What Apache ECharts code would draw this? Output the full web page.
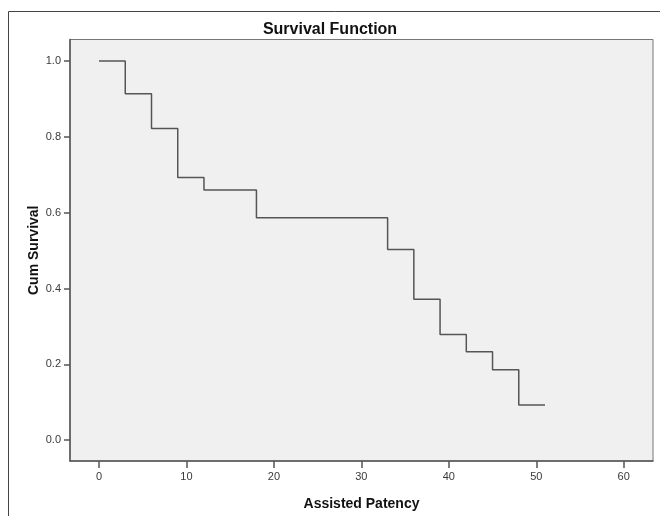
<!DOCTYPE html>
<html>
<head>
<meta charset="utf-8">
<script src="https://cdn.jsdelivr.net/npm/echarts@6/dist/echarts.min.js"></script>
<style>html,body{margin:0;padding:0;background:#fff}#c{width:660px;height:516px}</style>
</head>
<body>
<div id="c"></div>
<script>
var times = [0, 3, 6, 9, 12, 18, 33, 36, 39, 42, 45, 48, 51];
var survival = [1.0, 0.914, 0.822, 0.693, 0.660, 0.587, 0.503, 0.372, 0.279, 0.233, 0.186, 0.093, 0.093];
var xTicks = [0, 10, 20, 30, 40, 50, 60];
var yTicks = [0.0, 0.2, 0.4, 0.6, 0.8, 1.0];
var titleText = 'Survival Function';
var xName = 'Assisted Patency';
var yName = 'Cum Survival';

var points = times.map(function (t, i) { return [t, survival[i]]; });
var font = '"Liberation Sans", Arial, sans-serif';
var chart = echarts.init(document.getElementById('c'), null, { renderer: 'canvas' });
chart.setOption({
  animation: false,
  backgroundColor: '#ffffff',
  title: {
    text: titleText, left: 'center', top: 17,
    textStyle: { fontFamily: font, fontSize: 16, fontWeight: 'bold', color: '#111' }
  },
  graphic: [{
    type: 'rect', shape: { x: 8.5, y: 11.5, width: 800, height: 700 },
    style: { fill: 'none', stroke: '#444', lineWidth: 1 }, z: -10, silent: true
  }],
  grid: {
    left: 70, top: 39.5, right: 7, bottom: 52,
    show: true, backgroundColor: '#f0f0f0', borderColor: '#777', borderWidth: 1
  },
  xAxis: {
    type: 'value', min: -3.32, max: 63.35,
    name: xName, nameLocation: 'middle', nameGap: 36, nameMoveOverlap: false,
    nameTextStyle: { fontFamily: font, fontSize: 14, fontWeight: 'bold', color: '#111' },
    axisLine: { show: true, onZero: false, lineStyle: { color: '#555', width: 1.5 } },
    axisTick: { show: true, inside: false, customValues: xTicks, length: 7, lineStyle: { color: '#555', width: 1.5 } },
    axisLabel: { customValues: xTicks, margin: 10, fontFamily: font, fontSize: 11, color: '#3a3a3a' },
    splitLine: { show: false }
  },
  yAxis: {
    type: 'value', min: -0.055, max: 1.057,
    name: yName, nameLocation: 'middle', nameGap: 29, nameMoveOverlap: false,
    nameTextStyle: { fontFamily: font, fontSize: 14, fontWeight: 'bold', color: '#111' },
    axisLine: { show: true, onZero: false, lineStyle: { color: '#555', width: 1.5 } },
    axisTick: { show: true, inside: false, customValues: yTicks, length: 6, lineStyle: { color: '#555', width: 1.5 } },
    axisLabel: { customValues: yTicks, margin: 9, fontFamily: font, fontSize: 11, color: '#3a3a3a',
      formatter: function (v) { return v.toFixed(1); } },
    splitLine: { show: false }
  },
  series: [{
    type: 'line', step: 'end', data: points, showSymbol: false,
    lineStyle: { color: '#555', width: 1.5 }
  }]
});
</script>
</body>
</html>
